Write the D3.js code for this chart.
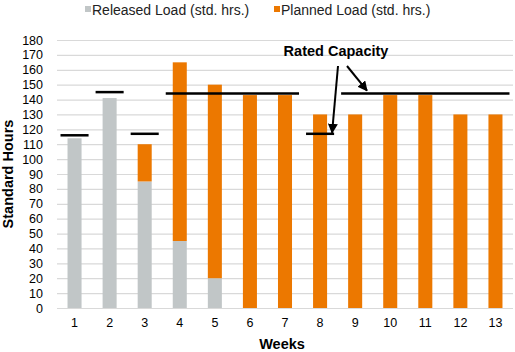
<!DOCTYPE html>
<html><head><meta charset="utf-8">
<script src="https://cdn.jsdelivr.net/npm/d3@7/dist/d3.min.js"></script>
<style>body{margin:0;background:#fff}svg{display:block;font-family:"Liberation Sans",Arial,sans-serif}</style>
</head><body><svg id="c" width="515" height="352"></svg>
<script>
const weeks = ["1","2","3","4","5","6","7","8","9","10","11","12","13"];
const released = [114,141,85,45,20,0,0,0,0,0,0,0,0];
const planned  = [0,0,25,120,130,143,143,130,130,143,143,130,130];
const yTicks = [0,10,20,30,40,50,60,70,80,90,100,110,120,130,140,150,160,170,180];
// rated capacity segments: first week, last week, capacity value
const capFrom  = ["1","2","3","4","8","9"];
const capTo    = ["1","2","3","7","8","13"];
const capValue = [116,145,117,144,117,144];
const seriesNames = ["Released Load (std. hrs.)","Planned Load (std. hrs.)"];
const colors = ["#c1c6c7","#ec7800"];

const svg = d3.select("#c");
const M = {l:57, r:513, t:40, b:308};
const x = d3.scaleBand().domain(weeks).range([M.l, M.r]).paddingInner(0.6).paddingOuter(0.3);
const y = d3.scaleLinear().domain([0,180]).range([M.b, M.t]);

// gridlines
svg.append("g").selectAll("line").data(yTicks).join("line")
  .attr("x1", M.l).attr("x2", M.r)
  .attr("y1", d=>y(d)+0.5).attr("y2", d=>y(d)+0.5)
  .attr("stroke", "#d9d9d9").attr("stroke-width", 1.2);

// y axis labels
const ya = svg.append("g").attr("transform",`translate(${M.l},0)`)
  .call(d3.axisLeft(y).tickValues(yTicks).tickSize(0).tickPadding(14));
ya.select(".domain").remove();
ya.selectAll("text").attr("font-size",12.5).attr("fill","#000").attr("font-family","Liberation Sans, Arial, sans-serif");

// x axis
const xa = svg.append("g").attr("transform",`translate(0,${M.b})`)
  .call(d3.axisBottom(x).tickSize(0).tickPadding(10));
xa.select(".domain").remove();
xa.selectAll("text").attr("font-size",12.5).attr("fill","#000").attr("font-family","Liberation Sans, Arial, sans-serif");

// stacked bars
const rows = weeks.map((w,i)=>({week:w, released:released[i], planned:planned[i]}));
const stack = d3.stack().keys(["released","planned"])(rows);
svg.append("g").selectAll("g").data(stack).join("g")
  .attr("fill",(d,i)=>colors[i])
  .selectAll("rect").data(d=>d.filter(s=>s[1]-s[0]>0)).join("rect")
  .attr("x", d=>x(d.data.week)).attr("width", x.bandwidth())
  .attr("y", d=>y(d[1])).attr("height", d=>y(d[0])-y(d[1]));

// capacity segments
const ext = x.step()*0.4;
svg.append("g").selectAll("line").data(capValue).join("line")
  .attr("x1",(d,i)=>x(capFrom[i])+x.bandwidth()/2-ext)
  .attr("x2",(d,i)=>x(capTo[i])+x.bandwidth()/2+ext)
  .attr("y1",d=>y(d)).attr("y2",d=>y(d))
  .attr("stroke","#000").attr("stroke-width",2.5);

// annotation
svg.append("defs").append("marker").attr("id","ah").attr("viewBox","0 0 10 10")
  .attr("refX",9).attr("refY",5).attr("markerWidth",5).attr("markerHeight",5).attr("orient","auto")
  .append("path").attr("d","M0,0L10,5L0,10z").attr("fill","#000");
svg.append("text").attr("x",336).attr("y",56).attr("text-anchor","middle")
  .attr("font-size",14.5).attr("font-weight","bold").text("Rated Capacity");
const cx8 = x("8")+x.bandwidth()/2;
svg.append("line").attr("x1",338).attr("y1",66).attr("x2",cx8+12).attr("y2",y(117)-1)
  .attr("stroke","#000").attr("stroke-width",2).attr("marker-end","url(#ah)");
svg.append("line").attr("x1",347).attr("y1",66).attr("x2",367).attr("y2",y(144)-3)
  .attr("stroke","#000").attr("stroke-width",2).attr("marker-end","url(#ah)");

// legend
const lg = [{x:85},{x:274}];
lg.forEach((l,i)=>{
  svg.append("rect").attr("x",l.x).attr("y",6).attr("width",6).attr("height",6).attr("fill",colors[i]);
  svg.append("text").attr("x",l.x+7).attr("y",15).attr("font-size",14).attr("fill","#222").text(seriesNames[i]);
});

// axis titles
svg.append("text").attr("transform","translate(13,174) rotate(-90)").attr("text-anchor","middle")
  .attr("font-size",14.5).attr("font-weight","bold").text("Standard Hours");
svg.append("text").attr("x",282).attr("y",349).attr("text-anchor","middle")
  .attr("font-size",14.5).attr("font-weight","bold").text("Weeks");
</script></body></html>
